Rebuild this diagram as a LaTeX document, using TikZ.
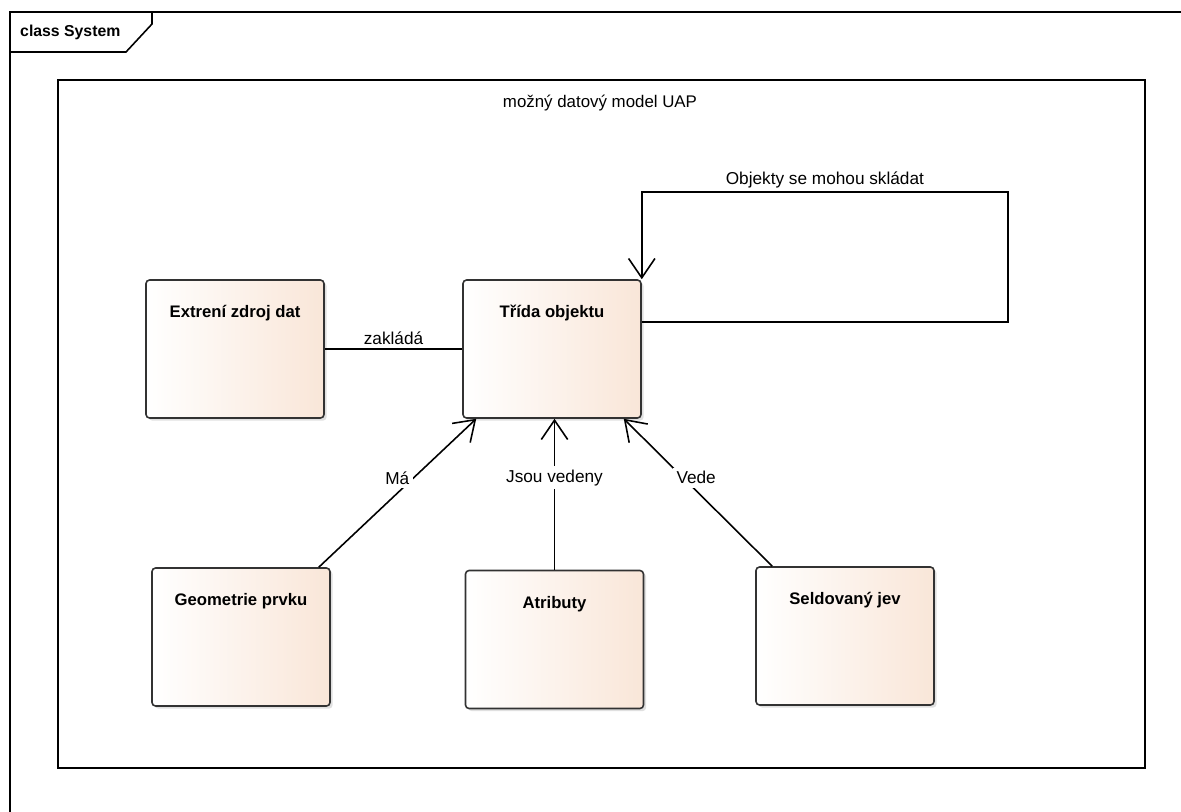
\documentclass[tikz,border=0pt]{standalone}
\usepackage{fontspec}
\setmainfont{Liberation Sans}
\usetikzlibrary{arrows.meta,shadows}

\definecolor{boxpeach}{RGB}{249,230,216}
\definecolor{boxline}{RGB}{50,50,50}

\tikzset{
	classbox/.style={draw=boxline, line width=0.9pt, rounded corners=2pt,
		minimum width=3.56cm, minimum height=2.76cm,
		left color=white, right color=boxpeach,
		drop shadow={shadow xshift=1.5pt, shadow yshift=-1.5pt, fill=black!30, opacity=.4}},
	boxtitle/.style={font=\fontsize{9.5}{11}\selectfont\bfseries, anchor=north, yshift=-0.4cm},
	assoc/.style={line width=0.9pt},
	navig/.style={assoc, -{Straight Barb[length=11pt,width=15pt,line width=0.9pt]}},
	linklabel/.style={font=\fontsize{9.8}{12}\selectfont, fill=white, inner sep=2pt}
}

\begin{document}
\begin{tikzpicture}[x=0.02cm,y=-0.02cm]
	\useasboundingbox (0,0) rectangle (1181,812);
	
	% outer frame
	\draw[line width=0.9pt] (10,812) -- (10,12) -- (1181,12);
	\draw[line width=0.9pt] (152,12) -- (152,24) -- (126,52) -- (10,52);
	\node[anchor=west, font=\fontsize{9}{11}\selectfont\bfseries] (frametitle) at (14,32) {class System};
	
	% inner frame
	\draw[line width=0.9pt] (58,80) rectangle (1145,768);
	\node[font=\fontsize{9.6}{12}\selectfont] (modelname) at (600,103) {možný datový model UAP};
	
	% classes
	\node[classbox, label={[boxtitle]north:Extrení zdroj dat}] (zdroj) at (235,349) {};
	\node[classbox, label={[boxtitle]north:Třída objektu}] (trida) at (552,349) {};
	\node[classbox, label={[boxtitle]north:Geometrie prvku}] (geom) at (241,637) {};
	\node[classbox, label={[boxtitle]north:Atributy}] (atrib) at (554.5,639.5) {};
	\node[classbox, label={[boxtitle]north:Seldovaný jev}] (jev) at (845,636) {};
	
	\coordinate (loopfar) at (1008,192);
	
	% associations
	\draw[assoc] (zdroj.east) -- node[linklabel, above, fill=none] {zakládá} (trida.west);
	\draw[navig] ([yshift=0.54cm]trida.east) -| (loopfar) -| node[linklabel, pos=0.25, above, fill=none] {Objekty se mohou skládat} (trida.north east);
	\draw[navig] ([xshift=-0.24cm]geom.north east) -- node[linklabel, pos=0.6, xshift=-0.32cm] {Má} ([xshift=0.28cm]trida.south west);
	\draw[navig] (atrib.north) -- node[linklabel, pos=0.61] {Jsou vedeny} (atrib.north |- trida.south);
	\draw[navig] ([xshift=0.34cm]jev.north west) -- node[linklabel, pos=0.6, xshift=0.26cm] {Vede} ([xshift=-0.36cm]trida.south east);
	
\end{tikzpicture}
\end{document}
